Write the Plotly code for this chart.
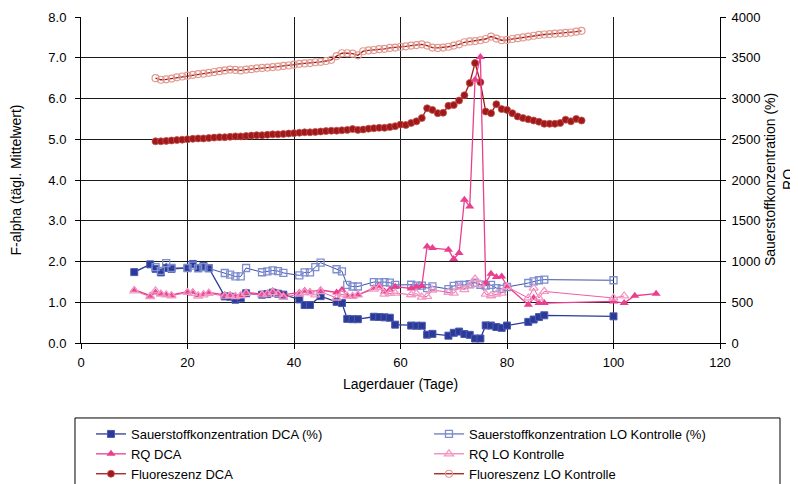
import plotly.graph_objects as go

# ---------------- data ----------------
fl_days = list(range(14, 95))
fl_dca = [4.95, 4.95, 4.96, 4.97, 4.98, 4.99, 5.00, 5.01, 5.02, 5.02,
          5.03, 5.04, 5.05, 5.05, 5.06, 5.07, 5.07, 5.08, 5.09, 5.10,
          5.10, 5.11, 5.12, 5.12, 5.13, 5.14, 5.15, 5.16, 5.17, 5.17,
          5.18, 5.19, 5.20, 5.21, 5.21, 5.22, 5.23, 5.25, 5.23, 5.24,
          5.26, 5.27, 5.28, 5.28, 5.30, 5.32, 5.36, 5.35, 5.40, 5.44,
          5.52, 5.76, 5.72, 5.64, 5.65, 5.82, 5.84, 5.95, 6.08, 6.38,
          6.87, 6.40, 5.68, 5.64, 5.86, 5.74, 5.72, 5.64, 5.56, 5.52,
          5.49, 5.46, 5.43, 5.38, 5.38, 5.38, 5.40, 5.48, 5.44, 5.50,
          5.46]
fl_lo = [6.50, 6.46, 6.47, 6.49, 6.52, 6.54, 6.56, 6.58, 6.60, 6.61,
         6.63, 6.65, 6.67, 6.69, 6.71, 6.70, 6.69, 6.71, 6.72, 6.74,
         6.75, 6.76, 6.77, 6.78, 6.80, 6.81, 6.83, 6.85, 6.86, 6.87,
         6.89, 6.90, 6.92, 6.95, 7.04, 7.11, 7.11, 7.10, 7.06, 7.16,
         7.18, 7.19, 7.21, 7.22, 7.24, 7.25, 7.27, 7.28, 7.30, 7.31,
         7.33, 7.30, 7.25, 7.24, 7.25, 7.27, 7.30, 7.33, 7.38, 7.40,
         7.41, 7.43, 7.46, 7.52, 7.47, 7.43, 7.44, 7.46, 7.48, 7.50,
         7.52, 7.54, 7.56, 7.57, 7.58, 7.59, 7.60, 7.61, 7.62, 7.64,
         7.66]

o2_dca_days = [10, 13, 14, 15, 16, 17, 20, 21, 22, 23, 24, 27, 28, 29, 30, 31,
               34, 35, 36, 37, 38, 41, 42, 43, 45, 48, 49, 50, 51, 52,
               55, 56, 57, 58, 59, 62, 63, 64, 65, 66, 69, 70, 71, 72, 73,
               74, 75, 76, 77, 78, 79, 80, 84, 85, 86, 87, 100]
o2_dca = [870, 965, 910, 866, 920, 910, 920, 970, 920, 945, 920, 572, 568, 531, 550, 610,
          593, 600, 618, 605, 593, 535, 466, 466, 575, 505, 490, 296, 292, 292,
          322, 319, 315, 310, 225, 214, 212, 212, 102, 112, 90, 125, 140, 110, 100,
          55, 55, 216, 214, 196, 186, 214, 259, 288, 318, 340, 327]

o2_lo_days = [14, 15, 16, 17, 20, 21, 22, 23, 24, 27, 28, 29, 30, 31,
              34, 35, 36, 37, 38, 41, 42, 43, 44, 45, 48, 49, 50, 51, 52,
              55, 56, 57, 58, 59, 62, 63, 64, 65, 66, 69, 70, 71, 72, 73,
              74, 75, 76, 77, 78, 79, 80, 84, 85, 86, 87, 100]
o2_lo = [930, 885, 981, 920, 920, 950, 915, 930, 915, 859, 840, 817, 817, 920,
         868, 880, 890, 883, 860, 830, 866, 866, 932, 985, 905, 880, 712, 693, 693,
         748, 745, 748, 740, 712, 715, 705, 705, 674, 695, 662, 700, 712, 712, 723,
         740, 715, 703, 712, 674, 665, 687, 736, 756, 770, 777, 770]

rq_dca_days = [10, 13, 14, 15, 16, 17, 20, 21, 22, 23, 24, 27, 28, 29, 30, 31,
               34, 35, 36, 37, 38, 41, 42, 43, 45, 48, 49, 50, 51, 52,
               55, 56, 57, 58, 59, 62, 63, 64, 65, 66, 69, 70, 71, 72, 73,
               74, 75, 76, 77, 78, 79, 80, 84, 85, 86, 87, 100, 102, 104, 108]
rq_dca = [654, 580, 620, 605, 590, 590, 630, 625, 585, 600, 620, 590, 590, 580, 590, 621,
          600, 610, 637, 615, 590, 620, 641, 630, 650, 620, 654, 580, 575, 590,
          674, 703, 633, 654, 690, 670, 690, 700, 1185, 1165, 1145, 1030, 1104, 1758, 1676,
          3230, 3509, 736, 850, 810, 815, 700, 470, 552, 490, 490, 510, 490, 580, 605]

rq_lo_days = [10, 13, 14, 15, 16, 17, 20, 21, 22, 23, 24, 27, 28, 29, 30, 31,
              34, 35, 36, 37, 38, 41, 42, 43, 44, 45, 48, 49, 50, 51, 52,
              55, 56, 57, 58, 59, 62, 63, 64, 65, 66, 69, 70, 71, 72, 73,
              74, 75, 76, 77, 78, 79, 80, 84, 85, 86, 87, 100, 102]
rq_lo = [640, 570, 640, 600, 590, 580, 620, 610, 575, 590, 610, 575, 580, 570, 580, 610,
         590, 600, 620, 600, 560, 600, 620, 615, 590, 630, 552, 600, 575, 572, 590,
         660, 680, 600, 610, 613, 592, 605, 564, 572, 650, 621, 613, 687, 654, 700,
         785, 720, 600, 580, 600, 613, 690, 552, 674, 552, 633, 552, 577]

names = ["Sauerstoffkonzentration DCA (%)", "Sauerstoffkonzentration LO Kontrolle (%)",
         "RQ DCA", "RQ LO Kontrolle", "Fluoreszenz DCA", "Fluoreszenz LO Kontrolle"]

x_ticks = [0, 20, 40, 60, 80, 100, 120]

right_title = "Sauerstoffkonzentration (%)<br>RQ"

# ---------------- figure ----------------
fig = go.Figure()

fig.add_trace(go.Scatter(x=o2_dca_days, y=o2_dca, name=names[0], yaxis="y2", mode="lines+markers",
                         line=dict(color="#2b3a98", width=1.3),
                         marker=dict(symbol="square", size=7, color="#2b3a98",
                                     line=dict(color="#4a5ab0", width=1))))
fig.add_trace(go.Scatter(x=o2_lo_days, y=o2_lo, name=names[1], yaxis="y2", mode="lines+markers",
                         line=dict(color="#3f52a8", width=1),
                         marker=dict(symbol="square-open", size=7, color="#7d8dd0",
                                     line=dict(width=1.3))))
fig.add_trace(go.Scatter(x=rq_dca_days, y=rq_dca, name=names[2], yaxis="y2", mode="lines+markers",
                         line=dict(color="#ea3f8f", width=1.3),
                         marker=dict(symbol="triangle-up", size=8, color="#ea3f8f")))
fig.add_trace(go.Scatter(x=rq_lo_days, y=rq_lo, name=names[3], yaxis="y2", mode="lines+markers",
                         line=dict(color="#ee5fa2", width=1),
                         marker=dict(symbol="triangle-up-open", size=8, color="#f29ac4",
                                     line=dict(width=1.3))))
fig.add_trace(go.Scatter(x=fl_days, y=fl_dca, name=names[4], mode="lines+markers",
                         line=dict(color="#a01818", width=1.3),
                         marker=dict(symbol="circle", size=7, color="#a01818",
                                     line=dict(color="#c05050", width=0.8))))
fig.add_trace(go.Scatter(x=fl_days, y=fl_lo, name=names[5], mode="lines+markers",
                         line=dict(color="#a01818", width=1.3),
                         marker=dict(symbol="circle-open", size=7, color="#e29a90",
                                     line=dict(width=1.2))))

font_family = "Liberation Sans, Arial, sans-serif"

# legend frame (paper coordinates)
fig.add_shape(type="rect", xref="paper", yref="paper",
              x0=-0.0094, x1=1.0939, y0=-0.47, y1=-0.230,
              line=dict(color="black", width=1), fillcolor="rgba(0,0,0,0)", layer="above")

# right axis title as annotation (two lines)
fig.add_annotation(text=right_title, xref="paper", yref="paper", x=1.0925, y=0.5,
                   xanchor="center", yanchor="middle", textangle=-90, showarrow=False,
                   font=dict(size=14, family=font_family, color="black"), align="center")

fig.update_layout(
    width=790, height=476,
    margin=dict(l=73, r=78, t=9, b=141, autoexpand=False),
    paper_bgcolor="white", plot_bgcolor="white",
    font=dict(family=font_family, size=13, color="black"),
    xaxis=dict(range=[0, 120], tickvals=x_ticks, showgrid=True, gridcolor="#1a1a1a", gridwidth=1,
               zeroline=False, showline=True, linecolor="black", linewidth=1,
               ticks="outside", ticklen=5, tickcolor="black", ticklabelstandoff=2,
               title=dict(text="Lagerdauer (Tage)", font=dict(size=14), standoff=10)),
    yaxis=dict(range=[0, 8], dtick=1, tickformat=".1f", showgrid=True, gridcolor="#1a1a1a",
               gridwidth=1, zeroline=False, showline=True, linecolor="black", linewidth=1,
               ticks="outside", ticklen=5, tickcolor="black", ticklabelstandoff=6,
               title=dict(text="F-alpha (tägl. Mittelwert)", font=dict(size=14), standoff=24)),
    yaxis2=dict(range=[0, 4000], dtick=500, overlaying="y", side="right", showgrid=False,
                zeroline=False, showline=True, linecolor="black", linewidth=1,
                ticks="outside", ticklen=5, tickcolor="black", ticklabelstandoff=3),
    legend=dict(orientation="h", x=-0.0016, xanchor="left", y=-0.2331, yanchor="top",
                borderwidth=0, bgcolor="rgba(0,0,0,0)",
                entrywidth=282, entrywidthmode="pixels", tracegroupgap=0,
                font=dict(size=13), itemwidth=30, indentation=11),
    showlegend=True,
)

fig.write_html("out.html")
